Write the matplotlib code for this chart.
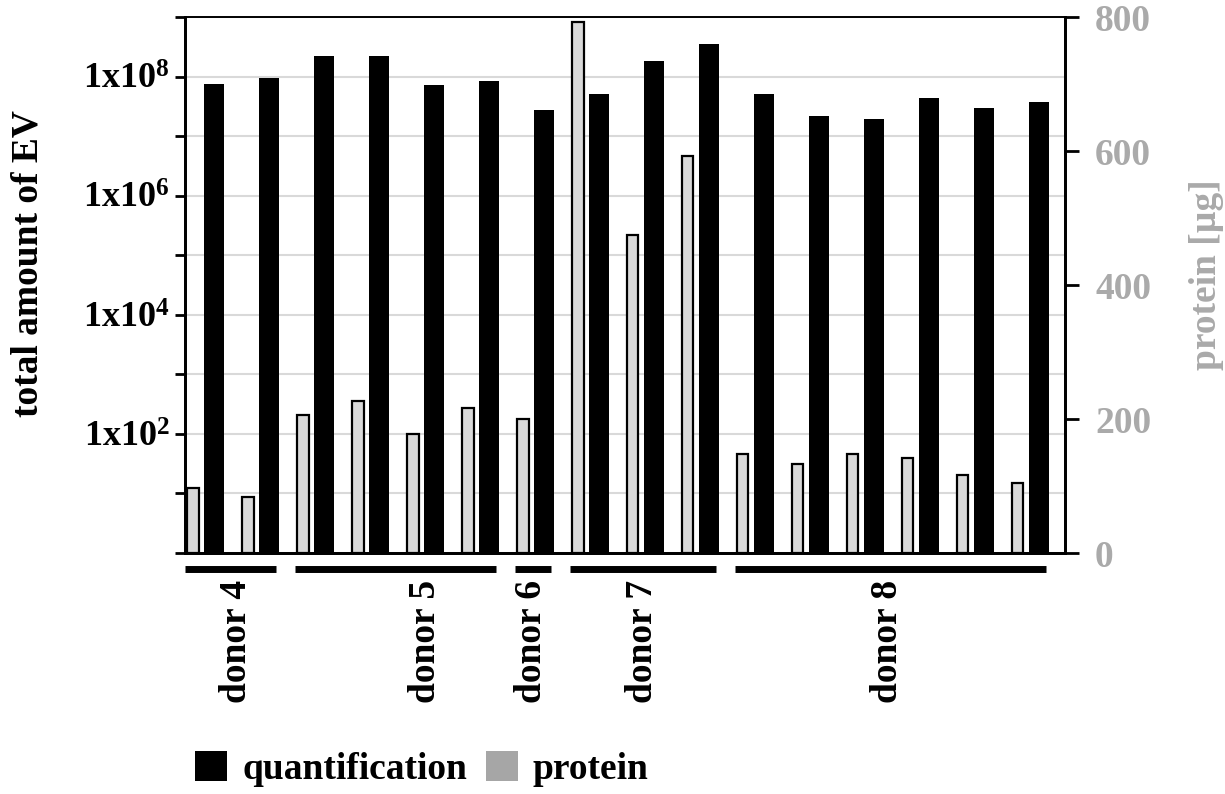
import matplotlib
matplotlib.use("Agg")
import matplotlib.pyplot as plt
import matplotlib.transforms as mtransforms
from matplotlib.patches import Patch
import numpy as np

plt.rcParams['font.family'] = ['Liberation Serif', 'DejaVu Serif']
plt.rcParams['font.weight'] = 'bold'
plt.rcParams['mathtext.fontset'] = 'custom'
plt.rcParams['mathtext.rm'] = 'Liberation Serif:bold'
plt.rcParams['mathtext.bf'] = 'Liberation Serif:bold'
plt.rcParams['mathtext.it'] = 'Liberation Serif:bold'

# data
quantification = [7.6e7, 9.4e7, 2.2e8, 2.2e8, 7.3e7, 8.3e7, 2.8e7, 5.2e7,
                  1.84e8, 3.5e8, 5.1e7, 2.16e7, 1.92e7, 4.4e7, 3.0e7, 3.8e7]
protein = [97, 84, 206, 227, 177, 216, 200, 792,
           474, 592, 148, 133, 148, 142, 116, 105]
donors = ['donor 4', 'donor 5', 'donor 6', 'donor 7', 'donor 8']
donor_sizes = [2, 4, 1, 3, 6]
label_shift = [0.0, 0.45, -0.12, -0.1, -0.15]

black = '#000000'
bar_gray = '#d9d9d9'
legend_gray = '#a6a6a6'
axis_gray = '#aaaaaa'
fs = 27

fig = plt.figure(figsize=(12.25, 7.94), dpi=100)
ax = fig.add_axes([0.151, 0.3035, 0.718, 0.675])
ax2 = ax.twinx()

x = np.arange(len(quantification))
ax.bar(x + 0.35, quantification, width=0.365, align='edge', color=black, zorder=3)
ax2.bar(x + 0.04, protein, width=0.21, align='edge', color=bar_gray,
        edgecolor=black, linewidth=1.6, zorder=3)

# left log axis: a tick at every decade, labels only on even ones
ax.set_yscale('log')
ax.set_ylim(1, 1e9)
ax.set_xlim(0, len(quantification))
ax.set_yticks([10.0 ** k for k in range(0, 10)])
ax.yaxis.set_minor_locator(matplotlib.ticker.NullLocator())
ax.set_yticklabels(['1x10$^{\\mathrm{%d}}$' % k if (k % 2 == 0 and k > 0) else ''
                    for k in range(0, 10)])
ax.grid(axis='y', color='#d9d9d9', linewidth=1.5, zorder=0)
ax.set_axisbelow(True)
ax.set_xticks([])
ax.tick_params(axis='y', direction='out', length=7, width=2, labelsize=26, pad=4)
ax.set_ylabel('total amount of EV', fontsize=fs, fontweight='bold')
ax.yaxis.set_label_coords(-0.159, 0.54)

ax2.set_ylim(0, 800)
ax2.set_yticks([0, 200, 400, 600, 800])
ax2.tick_params(axis='y', direction='out', length=10, width=2, labelsize=fs,
                labelcolor=axis_gray, pad=12)
ax2.set_ylabel('protein [µg]', fontsize=fs, fontweight='bold', color=axis_gray)
ax2.yaxis.set_label_coords(1.142, 0.52)

for a in (ax, ax2):
    for s in a.spines.values():
        s.set_linewidth(2)
ax.spines['top'].set_linewidth(1.2)
ax2.spines['top'].set_linewidth(1.2)

# donor group lines and labels below the axis
trans = mtransforms.blended_transform_factory(ax.transData, ax.transAxes)
start = 0
for name, n, shift in zip(donors, donor_sizes, label_shift):
    x0 = start
    x1 = start + n - 1 + 0.66
    ax.plot([x0, x1], [-0.03, -0.03], color=black, linewidth=5,
            transform=trans, clip_on=False, solid_capstyle='butt')
    ax.text((x0 + x1) / 2 + 0.1 + shift, -0.05, name, rotation=90, ha='center',
            va='top', fontsize=fs, fontweight='bold', transform=trans)
    start += n

handles = [Patch(facecolor=black), Patch(facecolor=legend_gray)]
fig.legend(handles, ['quantification', 'protein'], loc='center left',
           bbox_to_anchor=(0.132, 0.031), ncol=2, frameon=False,
           prop={'size': fs, 'weight': 'bold'}, handlelength=0.85,
           handleheight=0.85, handletextpad=0.4, columnspacing=0.5)

fig.savefig('out.png', dpi=100)
